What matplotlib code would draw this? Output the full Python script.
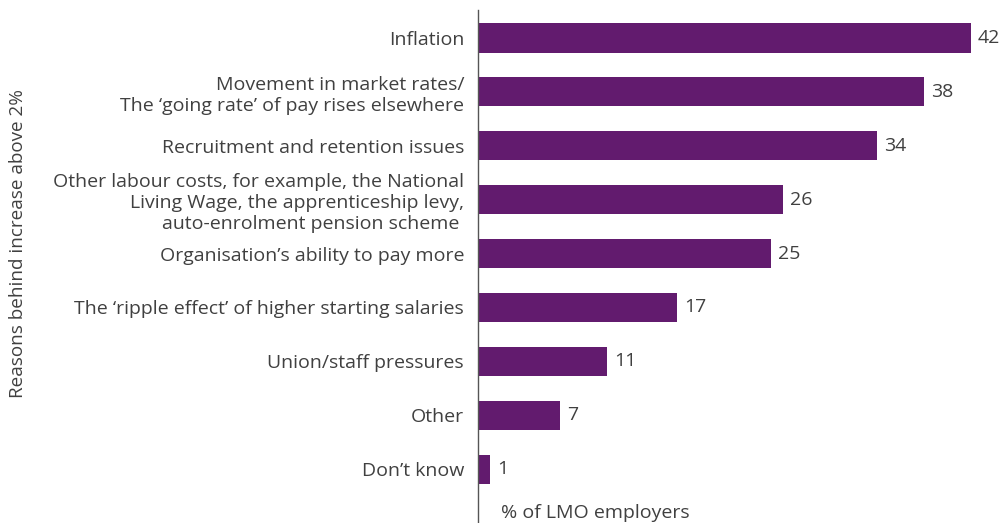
import matplotlib
matplotlib.use("Agg")
import matplotlib.pyplot as plt

reasons = [
    "Inflation",
    "Movement in market rates/\nThe \u2018going rate\u2019 of pay rises elsewhere",
    "Recruitment and retention issues",
    "Other labour costs, for example, the National\nLiving Wage, the apprenticeship levy,\nauto-enrolment pension scheme ",
    "Organisation\u2019s ability to pay more",
    "The \u2018ripple effect\u2019 of higher starting salaries",
    "Union/staff pressures",
    "Other",
    "Don\u2019t know",
]
shares = [42, 38, 34, 26, 25, 17, 11, 7, 1]

BAR = "#621b6e"
TEXT = "#404040"
FS = 14

plt.rcParams["font.family"] = ["Open Sans", "DejaVu Sans"]

fig = plt.figure(figsize=(10.07, 5.23), dpi=100)
ax = fig.add_axes([478 / 1007, 0, 528 / 1007, 513 / 523])

pos = list(range(len(reasons)))
ax.barh(pos, shares, height=0.54, color=BAR)
for y, v in zip(pos, shares):
    ax.text(v + 0.6, y, str(v), va="center", ha="left", fontsize=FS, color=TEXT)

ax.set_xlim(0, 45)
ax.set_ylim(9.0, -0.52)
ax.set_yticks(pos)
ax.set_yticklabels(reasons, fontsize=FS, color=TEXT, linespacing=1.22)
ax.tick_params(axis="y", length=0, pad=10)
ax.set_xticks([])

for s in ["top", "right", "bottom"]:
    ax.spines[s].set_visible(False)
ax.spines["left"].set_color("#555555")
ax.spines["left"].set_linewidth(1.0)

ax.text(2.0, 8.82, "% of LMO employers", fontsize=FS, color=TEXT, va="center", ha="left")
fig.text(18 / 1007, 1 - 243 / 523, "Reasons behind increase above 2%", rotation=90,
         fontsize=13.6, color=TEXT, ha="center", va="center")

fig.savefig("out.png", dpi=100, facecolor="white")
